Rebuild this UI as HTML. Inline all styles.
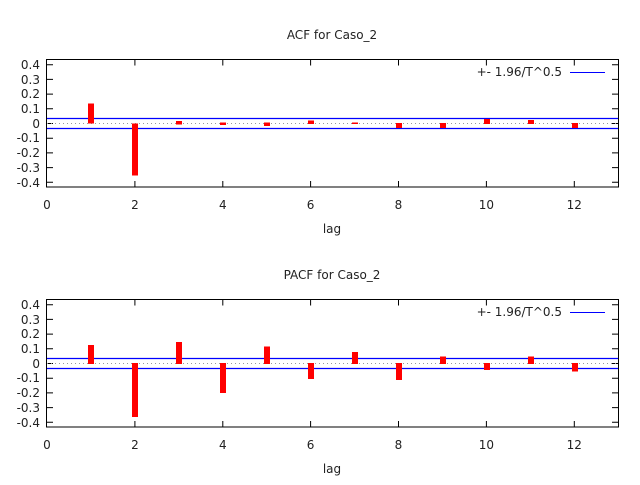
<!DOCTYPE html><html><head><style>body{margin:0;background:#fff}text{font-family:"DejaVu Sans","Liberation Sans",sans-serif;font-size:12px;fill:#222}</style></head><body>
<svg width="640" height="480" xmlns="http://www.w3.org/2000/svg">
<defs>
<g id="frame">
<rect x="46.5" y="59.5" width="572" height="127.5" fill="none" stroke="#000" stroke-width="1"/>
<g stroke="#000" stroke-width="1">
<path d="M47 64.7h6M47 79.4h6M47 94.1h6M47 108.8h6M47 123.5h6M47 138.2h6M47 152.9h6M47 167.6h6M47 182.3h6"/>
<path d="M618 64.7h-6M618 79.4h-6M618 94.1h-6M618 108.8h-6M618 123.5h-6M618 138.2h-6M618 152.9h-6M618 167.6h-6M618 182.3h-6"/>
<path d="M134.9 187v-6M222.8 187v-6M310.6 187v-6M398.5 187v-6M486.4 187v-6M574.3 187v-6"/>
<path d="M134.9 59.5v6M222.8 59.5v6M310.6 59.5v6M398.5 59.5v6M486.4 59.5v6M574.3 59.5v6"/>
</g>
<g text-anchor="end">
<text x="40" y="69">0.4</text><text x="40" y="84">0.3</text><text x="40" y="98">0.2</text><text x="40" y="113">0.1</text><text x="40" y="128">0</text><text x="40" y="142">-0.1</text><text x="40" y="157">-0.2</text><text x="40" y="172">-0.3</text><text x="40" y="187">-0.4</text>
</g>
<g text-anchor="middle">
<text x="47" y="209">0</text><text x="134.9" y="209">2</text><text x="222.8" y="209">4</text><text x="310.6" y="209">6</text><text x="398.5" y="209">8</text><text x="486.4" y="209">10</text><text x="574.3" y="209">12</text>
<text x="332" y="233">lag</text>
</g>
<path d="M47 123.5H618" stroke="#999" stroke-dasharray="1,3"/>
<path d="M47 118.5H618M47 128.5H618" stroke="#00f" stroke-width="1.3"/>
<text x="562" y="76" text-anchor="end">+- 1.96/T^0.5</text>
<path d="M570 72.5H605" stroke="#00f"/>
</g>
</defs>
<use href="#frame"/>
<text x="332" y="39" text-anchor="middle">ACF for Caso_2</text>
<g fill="#f00">
<rect x="88" y="103.5" width="6" height="20"/>
<rect x="132" y="123.5" width="6" height="52"/>
<rect x="176" y="121" width="6" height="3.5"/>
<rect x="220" y="122.5" width="6" height="2.5"/>
<rect x="264" y="122.5" width="6" height="3.5"/>
<rect x="308" y="120.5" width="6" height="3.5"/>
<rect x="352" y="122.5" width="6" height="1.5"/>
<rect x="396" y="123" width="6" height="5"/>
<rect x="440" y="123" width="6" height="5"/>
<rect x="484" y="119" width="6" height="5"/>
<rect x="528" y="120" width="6" height="4"/>
<rect x="572" y="123" width="6" height="5"/>
</g>
<g transform="translate(0,240)">
<use href="#frame"/>
<text x="332" y="39" text-anchor="middle">PACF for Caso_2</text>
<g fill="#f00">
<rect x="88" y="105" width="6" height="19"/>
<rect x="132" y="123" width="6" height="54"/>
<rect x="176" y="102" width="6" height="22"/>
<rect x="220" y="123" width="6" height="30"/>
<rect x="264" y="106.5" width="6" height="17.5"/>
<rect x="308" y="123" width="6" height="16"/>
<rect x="352" y="112" width="6" height="12"/>
<rect x="396" y="123" width="6" height="17"/>
<rect x="440" y="116.5" width="6" height="7.5"/>
<rect x="484" y="123" width="6" height="7"/>
<rect x="528" y="116.5" width="6" height="7.5"/>
<rect x="572" y="123" width="6" height="8.5"/>
</g>
</g>
</svg>
</body></html>
